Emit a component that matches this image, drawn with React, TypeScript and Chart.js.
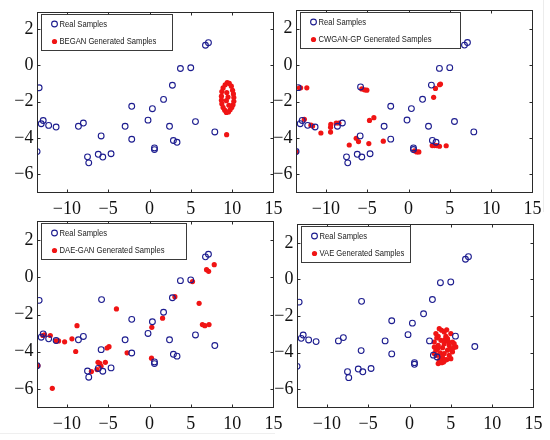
import React, { useEffect, useRef } from "react";
import { Chart, registerables } from "chart.js";

Chart.register(...registerables);

type Pt = [number, number];

const xTickValues = [-10, -5, 0, 5, 10, 15];
const yTickValues = [2, 0, -2, -4, -6];
const xRange = [-13.55, 15];

const realLabel = "Real Samples";

const realSamples: Pt[] = [
  [-13.6, -4.75], [-13.35, -1.24], [-12.86, -3.04], [-13.1, -3.22], [-12.2, -3.31],
  [-11.3, -3.4], [-8.6, -3.36], [-8.0, -3.18], [-5.85, -3.89], [-7.5, -5.04],
  [-7.35, -5.37], [-6.2, -4.9], [-5.65, -5.05], [-4.65, -4.87], [-2.95, -3.36],
  [-2.15, -2.26], [-2.15, -4.07], [-0.18, -3.02], [0.35, -2.39], [0.6, -4.55],
  [0.6, -4.64], [1.7, -1.88], [2.42, -3.36], [2.77, -1.1], [2.89, -4.14],
  [3.33, -4.24], [3.74, -0.18], [4.99, -0.14], [5.56, -3.1], [6.77, 1.1],
  [7.13, 1.24], [7.9, -3.67],
];

const realSamplesExtra: Pt[] = [[-5.8, -1.2]];

const beganSamples: Pt[] = [
  [9.4, -0.95], [9.65, -1.0], [9.15, -1.08], [9.9, -1.15], [8.9, -1.25],
  [10.05, -1.38], [8.75, -1.45], [10.15, -1.58], [8.7, -1.7], [10.2, -1.78],
  [8.7, -1.92], [10.2, -1.98], [8.75, -2.12], [10.1, -2.18], [8.9, -2.32],
  [9.95, -2.32], [9.1, -2.47], [9.75, -2.45], [9.3, -2.6], [9.55, -2.57],
  [9.35, -1.5], [9.5, -1.75], [9.3, -1.95], [9.6, -2.2], [9.33, -3.82],
];

const cwganSamples: Pt[] = [
  [-13.58, -4.77], [-13.2, -1.25], [-13.05, -1.25], [-12.3, -1.25], [-12.6, -2.98],
  [-11.8, -3.3], [-11.6, -3.35], [-10.6, -3.73], [-9.43, -3.68], [-9.43, -3.42],
  [-9.4, -3.26], [-8.75, -3.18], [-8.42, -3.18], [-7.17, -4.39], [-6.33, -4.02],
  [-6.05, -4.2], [-5.65, -1.31], [-5.32, -1.36], [-5.04, -1.38], [-4.72, -3.04],
  [-4.19, -2.89], [-4.8, -4.31], [-3.05, -4.18], [0.73, -4.71], [1.0, -4.77],
  [1.25, -4.77], [2.87, -4.42], [3.14, -4.42], [3.42, -4.42], [3.75, -4.46],
  [4.56, -4.43], [3.04, -1.77], [3.26, -1.28], [3.75, -1.08], [3.87, -1.04],
];

const daeganSamples: Pt[] = [
  [-13.5, -4.75], [-12.9, -3.13], [-12.7, -3.1], [-12.0, -3.13], [-11.3, -3.42],
  [-11.0, -3.42], [-10.27, -3.47], [-9.38, -3.31], [-8.77, -2.6], [-8.93, -3.99],
  [-11.76, -5.97], [-7.03, -5.07], [-6.35, -4.96], [-6.23, -4.57], [-6.02, -4.62],
  [-5.87, -4.78], [-5.34, -4.57], [-5.14, -3.8], [-4.9, -3.73], [-4.0, -1.7],
  [-2.71, -4.06], [0.28, -2.69], [0.24, -4.35], [1.58, -2.2], [3.07, -1.04],
  [5.2, -0.23], [6.0, -1.4], [6.4, -2.54], [6.7, -2.6], [7.2, -2.54],
  [6.9, 0.41], [7.15, 0.32], [7.83, 0.68],
];

const vaeSamples: Pt[] = [
  [3.6, -2.69], [3.88, -2.78], [4.2, -2.87], [3.19, -2.96], [5.0, -2.96],
  [3.47, -3.11], [4.4, -3.11], [4.6, -3.24], [3.8, -3.33], [2.99, -3.42],
  [5.2, -3.42], [4.2, -3.51], [4.8, -3.6], [3.47, -3.6], [5.6, -3.69],
  [4.0, -3.73], [3.19, -3.87], [4.6, -3.87], [5.2, -3.96], [3.71, -4.02],
  [4.2, -4.05], [3.31, -4.15], [4.8, -4.15], [4.0, -4.27], [4.52, -4.38],
  [5.0, -4.33], [3.59, -4.42], [4.12, -4.51], [3.47, -4.6], [3.8, -4.27],
  [2.99, -4.05], [5.4, -3.51], [4.28, -3.29], [4.9, -3.78], [3.4, -3.78],
  [3.3, -3.2], [4.5, -2.75], [5.3, -3.75], [3.9, -4.55], [4.35, -4.4],
  [3.0, -3.7], [4.7, -3.4],
];

type Area = { left: number; top: number; right: number; bottom: number };
type PanelCfg = {
  label: string;
  gen: Pt[];
  extra: boolean;
  area: Area;
  yRange: [number, number];
  legendW: number;
};

const panels: PanelCfg[] = [
  { label: "BEGAN Generated Samples", gen: beganSamples, extra: false,
    area: { left: 37.5, top: 12.5, right: 273.5, bottom: 192.5 }, yRange: [-7, 2.9], legendW: 131 },
  { label: "CWGAN-GP Generated Samples", gen: cwganSamples, extra: true,
    area: { left: 296.5, top: 10.5, right: 532.5, bottom: 192.5 }, yRange: [-7, 3], legendW: 160 },
  { label: "DAE-GAN Generated Samples", gen: daeganSamples, extra: true,
    area: { left: 37.5, top: 221.5, right: 273.5, bottom: 407.5 }, yRange: [-7, 3], legendW: 145 },
  { label: "VAE Generated Samples", gen: vaeSamples, extra: true,
    area: { left: 297.5, top: 224.5, right: 533.5, bottom: 407.5 }, yRange: [-7, 3], legendW: 109 },
];

const REAL_COLOR = "#1d1d8f";
const GEN_COLOR = "#f01414";
const TICK_FONT = "'Liberation Serif', 'Times New Roman', serif";
const LEGEND_FONT = "'Liberation Sans', Arial, sans-serif";

const fmt = (v: number) => (v < 0 ? "\u2212" + Math.abs(v) : String(v));

const framePlugin = {
  id: "matlabFrame",
  afterDatasetsDraw(chart: any) {
    const { ctx, chartArea: a, scales } = chart;
    const opts = chart.options.plugins.matlabFrame || {};
    ctx.save();
    ctx.strokeStyle = "#2a2a2a";
    ctx.lineWidth = 1;
    ctx.strokeRect(a.left, a.top, a.right - a.left, a.bottom - a.top);
    const L = 3;
    ctx.beginPath();
    for (const v of xTickValues) {
      const px = Math.round(scales.x.getPixelForValue(v)) + 0.5;
      if (px <= a.left + 1 || px >= a.right - 1) continue;
      ctx.moveTo(px, a.bottom); ctx.lineTo(px, a.bottom - L);
      ctx.moveTo(px, a.top); ctx.lineTo(px, a.top + L);
    }
    for (const v of yTickValues) {
      const py = Math.round(scales.y.getPixelForValue(v)) + 0.5;
      if (py <= a.top + 1 || py >= a.bottom - 1) continue;
      ctx.moveTo(a.left, py); ctx.lineTo(a.left + L, py);
      ctx.moveTo(a.right, py); ctx.lineTo(a.right - L, py);
    }
    ctx.stroke();

    // legend box in the upper-left corner of the axes
    const bx = Math.round(a.left + 3) + 0.5;
    const by = Math.round(a.top + 1) + 0.5;
    const bw = opts.legendW || 130;
    const bh = 36;
    ctx.fillStyle = "#ffffff";
    ctx.fillRect(bx, by, bw, bh);
    ctx.strokeStyle = "#3a3a3a";
    ctx.strokeRect(bx, by, bw, bh);
    ctx.font = "9px " + LEGEND_FONT;
    ctx.textBaseline = "middle";
    ctx.textAlign = "left";
    chart.data.datasets.forEach((ds: any, i: number) => {
      const mx = bx + 13;
      const my = by + 9.5 + i * 17.5;
      ctx.beginPath();
      ctx.arc(mx, my, ds.pointRadius, 0, Math.PI * 2);
      if (ds.pointBackgroundColor && ds.pointBackgroundColor !== "transparent") {
        ctx.fillStyle = ds.pointBackgroundColor;
        ctx.fill();
      } else {
        ctx.strokeStyle = ds.pointBorderColor;
        ctx.lineWidth = ds.pointBorderWidth;
        ctx.stroke();
      }
      ctx.save();
      ctx.translate(mx + 5, my + 0.5);
      ctx.scale(0.85, 1);
      ctx.fillStyle = "#1a1a1a";
      ctx.fillText(ds.label, 0, 0);
      ctx.restore();
    });
    ctx.restore();
  },
};

const PAD_L = 40, PAD_T = 15, PAD_R = 22, PAD_B = 32;

function Panel({ cfg }: { cfg: PanelCfg }) {
  const ref = useRef<HTMLCanvasElement>(null);
  const a = cfg.area;
  const cLeft = Math.floor(a.left) - PAD_L;
  const cTop = Math.floor(a.top) - PAD_T;
  const cRight = Math.ceil(a.right) + PAD_R;
  const cBottom = Math.ceil(a.bottom) + PAD_B;
  const w = cRight - cLeft;
  const h = cBottom - cTop;

  useEffect(() => {
    const real = cfg.extra ? realSamples.concat(realSamplesExtra) : realSamples;
    const chart = new Chart(ref.current as HTMLCanvasElement, {
      type: "scatter",
      data: {
        datasets: [
          {
            label: realLabel,
            data: real.map(([x, y]) => ({ x, y })),
            pointRadius: 2.9,
            pointBorderWidth: 1.1,
            pointBorderColor: REAL_COLOR,
            pointBackgroundColor: "transparent",
            clip: 0,
          } as any,
          {
            label: cfg.label,
            data: cfg.gen.map(([x, y]) => ({ x, y })),
            pointRadius: 2.6,
            pointBorderWidth: 0,
            pointBorderColor: GEN_COLOR,
            pointBackgroundColor: GEN_COLOR,
            clip: 0,
          } as any,
        ],
      },
      options: {
        responsive: false,
        animation: false,
        devicePixelRatio: 1,
        events: [],
        layout: {
          padding: { left: 0, top: a.top - cTop, right: cRight - a.right, bottom: 0 },
        },
        plugins: {
          legend: { display: false },
          tooltip: { enabled: false },
          matlabFrame: { legendW: cfg.legendW },
        } as any,
        scales: {
          x: {
            type: "linear",
            min: xRange[0],
            max: xRange[1],
            grid: { display: false, drawTicks: false },
            border: { display: false },
            afterBuildTicks: (s: any) => { s.ticks = xTickValues.map((v) => ({ value: v })); },
            afterFit: (s: any) => { s.height = cBottom - a.bottom; },
            ticks: {
              padding: 6,
              maxRotation: 0,
              autoSkip: false,
              color: "#111",
              font: { family: TICK_FONT, size: 18 },
              callback: (v: any) => fmt(Number(v)),
            },
          },
          y: {
            type: "linear",
            min: cfg.yRange[0],
            max: cfg.yRange[1],
            grid: { display: false, drawTicks: false },
            border: { display: false },
            afterBuildTicks: (s: any) => { s.ticks = yTickValues.map((v) => ({ value: v })); },
            afterFit: (s: any) => { s.width = a.left - cLeft; },
            ticks: {
              padding: 4,
              autoSkip: false,
              color: "#111",
              font: { family: TICK_FONT, size: 18 },
              callback: (v: any) => fmt(Number(v)),
            },
          },
        },
      },
      plugins: [framePlugin as any],
    });
    return () => chart.destroy();
  }, []);

  return (
    <canvas
      ref={ref}
      width={w}
      height={h}
      style={{ position: "absolute", left: cLeft, top: cTop, width: w, height: h }}
    />
  );
}

export default function App() {
  return (
    <div
      style={{
        position: "absolute",
        left: 0,
        top: 0,
        width: 550,
        height: 440,
        background: "#ffffff",
        overflow: "hidden",
      }}
    >
      <div style={{ position: "absolute", left: 543, top: 0, width: 1, height: 212, background: "#ececec" }} />
      <div style={{ position: "absolute", left: 0, top: 433, width: 275, height: 1, background: "#efefef" }} />
      {panels.map((p, i) => (
        <Panel key={i} cfg={p} />
      ))}
    </div>
  );
}
